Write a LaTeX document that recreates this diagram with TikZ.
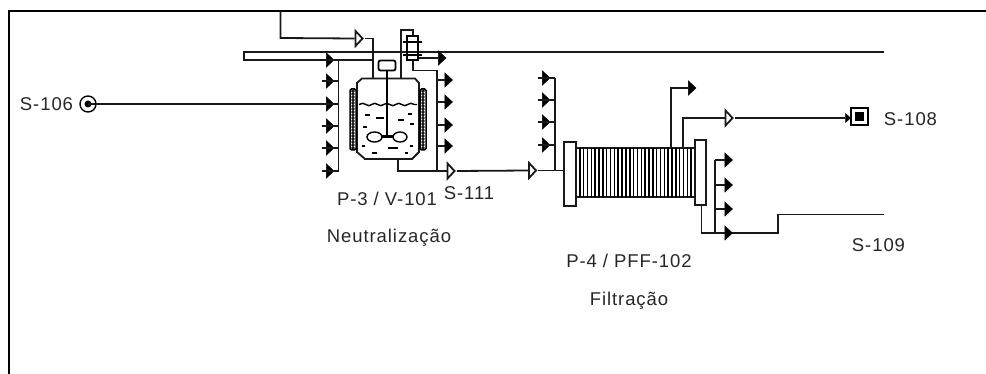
\documentclass[tikz,border=0pt]{standalone}
\usepackage{fontspec}
\setmainfont[LetterSpace=5]{Liberation Sans}
\usetikzlibrary{calc}
\usetikzlibrary{shapes.geometric}
\usetikzlibrary{decorations.pathmorphing}
\tikzset{pipe/.style={line width=1.8pt,black!90}}
\tikzset{head/.style={isosceles triangle,isosceles triangle stretches,fill=black,draw=black,line width=0.5pt,inner sep=0pt,minimum width=14pt,minimum height=7.5pt}}
\tikzset{valve/.style={isosceles triangle,isosceles triangle stretches,fill=white,draw=black!90,line width=1.8pt,inner sep=0pt,minimum width=15pt,minimum height=7pt}}
\tikzset{lbl/.style={font=\fontsize{18.5}{18.5}\selectfont,text=black!85,inner sep=0pt}}
\tikzset{flange/.style={draw=black!90,fill=white,line width=1.8pt}}

\begin{document}
\begin{tikzpicture}[x=1pt,y=-1pt]
\useasboundingbox (0,0) rectangle (986,374);
% frame
\coordinate (FB) at (9,374);
\coordinate (FL) at (9,11);
\coordinate (FR) at (986,11);
\draw[line width=2.2pt] (FB) -- (FL) -- (FR);

% heating line
\coordinate (HA) at (884,52);
\coordinate (HB) at (244,52);
\coordinate (HC) at (244,60);
\coordinate (HD) at (373,60);
\draw[pipe] (HA) -- (HB) -- (HC) -- (HD);

% feed from the top
\coordinate (TA) at (280.5,11);
\coordinate (TB) at (280.5,38);
\node (VT) at (358.5,38.5) [valve] {};
\coordinate (TC) at (373,38.5);
\coordinate (TD) at (373,78.5);
\draw[pipe] (TA) -- (TB) -- (VT.west);
\draw[pipe] (VT.apex) -- (TC) -- (TD);

% vessel
\draw[pipe] (362,78.5) -- (415,78.5) -- (419,83) -- (419,152) -- (412,159) -- (365,159) -- (357,152) -- (357,83) -- cycle;
\foreach \x in {350,420}
{
	\draw[line width=1.5pt,rounded corners=1.5pt] (\x,89) rectangle +(6,61);
	\foreach \y in {91,94,...,148}
	{
		\draw[line width=0.9pt] (\x+3,\y) circle (1.2pt);
	}
}
\draw[line width=1.4pt,decorate,decoration={snake,amplitude=1.2pt,segment length=12pt}] (359,104.5) -- (417,104.5);
\foreach \x / \y / \l in {365/115/5,376/118/8,398/120/6,408/114/4,363/127/4,410/124/4,362/146/3,372/153/5,388/148/10,405/153/3,410/146/3}
{
	\draw[line width=1.4pt] (\x,\y) -- +(\l,0);
}
\node (MO) at (387,65.5) [draw,line width=1.8pt,rounded corners=2pt,minimum width=17pt,minimum height=10pt,inner sep=0pt] {};
\coordinate (SH) at (387,137);
\draw[line width=1.5pt] (MO.south) -- (SH);
\draw[line width=1.4pt] (374.5,137) ellipse (7.5pt and 5pt);
\draw[line width=1.4pt] (400,137) ellipse (7pt and 5pt);
\draw[line width=3pt] (382,137) -- (393,137);

% condenser
\node (CO) at (412.5,48) [draw,line width=1.8pt,minimum width=11pt,minimum height=24pt,inner sep=0pt] {};
\coordinate (CA) at (401,78.5);
\coordinate (CB) at (401,30);
\coordinate (CC) at (413,30);
\draw[pipe] (CA) -- (CB) -- (CC) -- (CO.north -| CC);
\foreach \y in {42,55}
{
	\draw[line width=1.5pt] (403,\y) -- (422,\y);
}
\coordinate (CD) at (413,70.5);
\coordinate (RT) at (437,70.5);
\coordinate (RB) at (437,171);
\draw[pipe] (CO.south -| CD) -- (CD) -- (RT) -- (RB);
\node (HO) at (441.5,58) [head] {};
\draw[pipe] (CO.east |- HO) -- (HO);

% left manifold
\coordinate (LT) at (338.5,60);
\coordinate (LB) at (338.5,171);
\draw[pipe] (LT) -- (LB);
\foreach \k / \y in {1/60,2/81,3/104,4/126,5/148,6/171}
{
	\node (LH\k) at (329.5,\y) [head] {};
	\coordinate (LM\k) at (338.5,\y);
	\coordinate (LS\k) at (322,\y);
	\draw[pipe] (LS\k) -- (LM\k);
}
\node (ST6) at (88,104) [draw,circle,line width=1.4pt,minimum size=16pt,inner sep=0pt] {};
\node (SD6) at (88,104) [fill=black,circle,minimum size=7pt,inner sep=0pt] {};
\draw[pipe] (ST6.center) -- (LM3);

% right manifold
\foreach \k / \y in {1/80,2/102,3/125,4/146}
{
	\node (RH\k) at (448,\y) [head] {};
	\coordinate (RM\k) at (437,\y);
	\draw[pipe] (RM\k) -- (RH\k);
}

% vessel outlet
\coordinate (OA) at (398,159);
\coordinate (OB) at (398,171);
\node (V1) at (450.5,171) [valve] {};
\node (V2) at (532,170.5) [valve] {};
\draw[pipe] (OA) -- (OB) -- (V1.west);
\draw[pipe] (V1.apex) -- (V2.west);

% filter
\draw[draw=black!90,line width=1.8pt] (576,148) rectangle (695,197);
\foreach \i in {1,...,30}
{
	\draw[line width=1.5pt] (576+3.84*\i,148) -- (576+3.84*\i,197);
}
\node (FL1) at (570,174) [flange,minimum width=12pt,minimum height=64pt,inner sep=0pt] {};
\node (FL2) at (700.5,172.5) [flange,minimum width=11pt,minimum height=65pt,inner sep=0pt] {};
\draw[pipe] (V2.apex) -- (FL1.west |- V2);

% filter feed manifold
\coordinate (MB) at (555,170.5);
\coordinate (MT) at (555,78);
\draw[pipe] (MB) -- (MT);
\foreach \k / \y in {1/78,2/100,3/122,4/145}
{
	\node (MH\k) at (545.5,\y) [head] {};
	\coordinate (MS\k) at (538,\y);
	\coordinate (MM\k) at (555,\y);
	\draw[pipe] (MS\k) -- (MM\k);
}

% permeate
\coordinate (PA) at (671,148);
\coordinate (PB) at (671,88);
\node (PH) at (691.5,88) [head] {};
\draw[pipe] (PA) -- (PB) -- (PH);
\coordinate (QA) at (683,148);
\coordinate (QB) at (683,118);
\node (V3) at (728.5,118) [valve] {};
\draw[pipe] (QA) -- (QB) -- (V3.west);
\node (SQ) at (859.5,116.5) [draw,line width=1.8pt,minimum size=17pt,inner sep=0pt] {};
\node (SF) at (859.5,116.5) [fill=black,minimum size=9pt,inner sep=0pt] {};
\node (QH) at (847.5,118) [head,minimum width=9pt,minimum height=5pt] {};
\draw[pipe] (V3.apex) -- (QH);

% concentrate
\coordinate (BA) at (701.5,205);
\coordinate (BB) at (701.5,233);
\coordinate (BC) at (778,233);
\coordinate (BD) at (778,214.5);
\coordinate (BE) at (884,214.5);
\draw[pipe] (BA) -- (BB) -- (BC) -- (BD) -- (BE);
\coordinate (BT) at (715,160);
\coordinate (BM) at (715,233);
\draw[pipe] (BT) -- (BM);
\foreach \k / \y in {1/160,2/185,3/209,4/233}
{
	\node (BH\k) at (728,\y) [head] {};
	\coordinate (BS\k) at (715,\y);
	\draw[pipe] (BS\k) -- (BH\k);
}

% labels
\node (S106) at (46.5,104.5) [lbl] {S-106};
\node (S108) at (910.5,119) [lbl] {S-108};
\node (S109) at (878.5,245) [lbl] {S-109};
\node (S111) at (469,193) [lbl] {S-111};
\node (P3) at (387,199) [lbl] {P-3 / V-101};
\node (N3) at (389,238) [lbl] {Neutralização};
\node (P4) at (629,261) [lbl] {P-4 / PFF-102};
\node (F4) at (629,301) [lbl] {Filtração};
\end{tikzpicture}
\end{document}
